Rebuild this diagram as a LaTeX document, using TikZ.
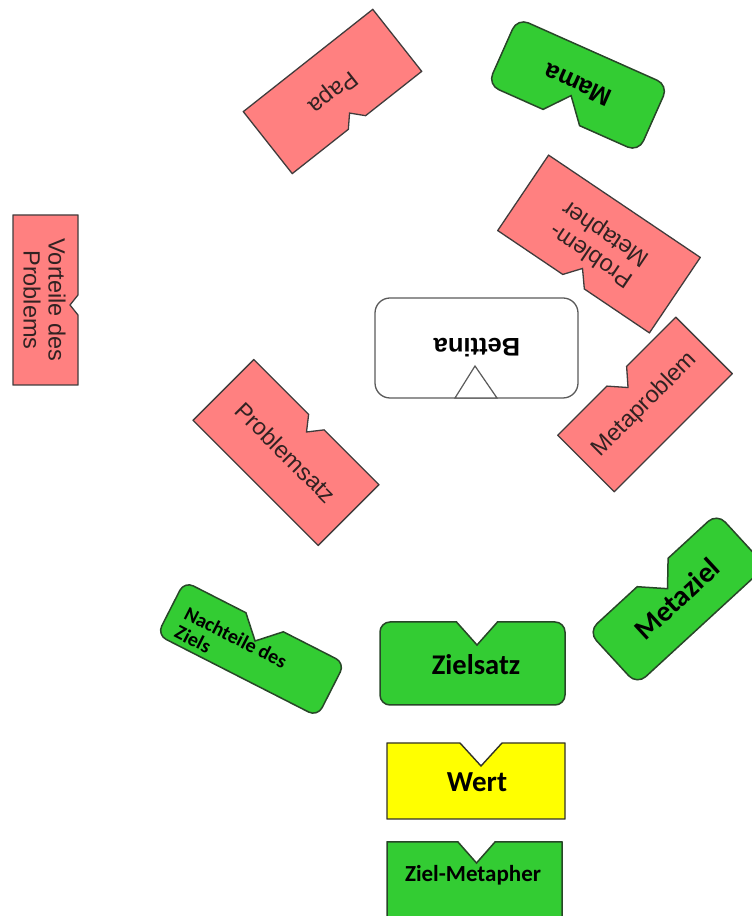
\documentclass[tikz,border=0pt]{standalone}
\usepackage{fontspec}
\setmainfont{Liberation Sans}
\newfontfamily\calibfont{Carlito}

\definecolor{probfill}{RGB}{255,128,128}
\definecolor{probline}{RGB}{64,60,60}
\definecolor{probtext}{RGB}{50,34,34}
\definecolor{zielfill}{RGB}{51,204,51}
\definecolor{zielline}{RGB}{40,70,40}
\definecolor{wertfill}{RGB}{255,255,0}
\definecolor{wertline}{RGB}{50,50,40}
\definecolor{personline}{RGB}{90,90,90}

% Box outline with a V notch in its top edge, centred at the local origin.
% #1 width, #2 height, #3 notch offset, #4 notch width, #5 notch depth, #6 corner radius
\newcommand\notchedbox[6]{%
  ({#3+#4/2},{#2/2}) -- ({#1/2-#6},{#2/2})
  arc[start angle=90,end angle=0,radius=#6] -- ({#1/2},{-#2/2+#6})
  arc[start angle=0,end angle=-90,radius=#6] -- ({-#1/2+#6},{-#2/2})
  arc[start angle=270,end angle=180,radius=#6] -- ({-#1/2},{#2/2-#6})
  arc[start angle=180,end angle=90,radius=#6] -- ({#3-#4/2},{#2/2})
  -- (#3,{#2/2-#5}) -- cycle}

\begin{document}
\begin{tikzpicture}[x=1pt,y=1pt,
  probbox/.style={fill=probfill,draw=probline,line width=1.3pt,line join=miter},
  zielbox/.style={fill=zielfill,draw=zielline,line width=1.5pt,line join=miter},
  wertbox/.style={fill=wertfill,draw=wertline,line width=1.4pt,line join=miter},
  probtxt/.style={text=probtext,align=center,inner sep=0pt,transform shape,
    font=\fontsize{23.5}{26}\selectfont},
  zieltxt/.style={text=black,align=center,inner sep=0pt,transform shape,
    font=\calibfont\bfseries\fontsize{29}{32}\selectfont},
  persontxt/.style={text=black,align=center,inner sep=0pt,transform shape,
    font=\bfseries\fontsize{25.5}{28}\selectfont}]

\useasboundingbox (0,0) rectangle (752,916);

% ---- Problem side (red) ----
\begin{scope}[shift={(332.5,824.5)},rotate=-141.7]
  \draw[probbox] \notchedbox{165}{79}{0}{22}{12}{0.01};
  \node[probtxt] (papa) at (0,0) {Papa};
\end{scope}

\begin{scope}[shift={(599,672)},rotate=146]
  \draw[probbox] \notchedbox{183}{91}{0}{26}{16}{0.01};
  \node[probtxt] (probmeta) at (0,0) {Problem-\\Metapher};
\end{scope}

\begin{scope}[shift={(45.5,616)},rotate=-90]
  \draw[probbox] \notchedbox{170}{65}{5}{20}{8}{0.01};
  \node[probtxt,font=\fontsize{23.5}{25}\selectfont] (vorteile) at (0,-1) {Vorteile des\\Problems};
\end{scope}

\begin{scope}[shift={(645,511.5)},rotate=45]
  \draw[probbox] \notchedbox{167}{80}{0}{28}{16}{0.01};
  \node[probtxt] (metaprob) at (0,0) {Metaproblem};
\end{scope}

\begin{scope}[shift={(286,463.5)},rotate=-45]
  \draw[probbox] \notchedbox{177}{86}{0}{22}{14}{0.01};
  \node[probtxt] (probsatz) at (0,0) {Problemsatz};
\end{scope}

% ---- Person in the centre ----
\draw[fill=white,draw=personline,line width=1.3pt,rounded corners=15pt]
  (375,518) rectangle (578,618);
\draw[fill=white,draw=personline,line width=1.2pt] (455,518) -- (475,550) -- (497,518) -- cycle;
\node[persontxt,rotate=180] (bettina) at (477,568) {Bettina};

% ---- Goal side (green / yellow) ----
\begin{scope}[shift={(578,831)},rotate=156]
  \draw[zielbox] \notchedbox{165}{73}{2}{40}{24}{12};
  \node[persontxt,font=\bfseries\fontsize{25}{28}\selectfont] (mama) at (0,0) {Mama};
\end{scope}

\begin{scope}[shift={(251,267)},rotate=-27]
  \draw[zielbox] \notchedbox{180}{60}{0}{42}{21}{10};
  \node[zieltxt,align=left,anchor=west,font=\calibfont\bfseries\fontsize{20}{21}\selectfont]
    (nachteile) at (-75,-7) {Nachteile des\\Ziels};
\end{scope}

\begin{scope}[shift={(677,317)},rotate=42.6]
  \draw[zielbox] \notchedbox{175}{72}{0}{42}{22}{12};
  \node[zieltxt] (metaziel) at (0,0) {Metaziel};
\end{scope}

\begin{scope}[shift={(472.5,252.5)}]
  \draw[zielbox] \notchedbox{185}{83}{4.5}{41}{23}{10};
  \node[zieltxt,font=\calibfont\bfseries\fontsize{28.5}{32}\selectfont] (zielsatz) at (3.5,-1.5) {Zielsatz};
\end{scope}

\begin{scope}[shift={(476,135)}]
  \draw[wertbox] \notchedbox{178}{76}{5}{42}{23}{0.01};
  \node[zieltxt] (wert) at (1,-1) {Wert};
\end{scope}

\begin{scope}[shift={(474.5,36)}]
  \draw[zielbox] \notchedbox{175}{76}{2}{37}{21}{0.01};
  \node[zieltxt,font=\calibfont\bfseries\fontsize{23}{26}\selectfont] (zielmeta) at (-1.5,5) {Ziel-Metapher};
\end{scope}

\end{tikzpicture}
\end{document}
